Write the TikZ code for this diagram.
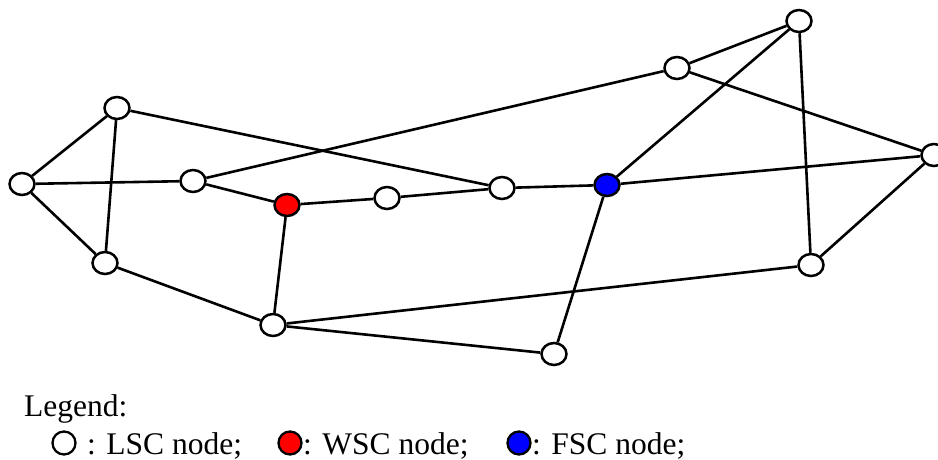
\documentclass[tikz,border=0pt]{standalone}
\usepackage{fontspec}
\setmainfont{Liberation Serif}
\usetikzlibrary{shapes.geometric}
\begin{document}
\begin{tikzpicture}[x=1pt,y=-1pt,
  vertex/.style={ellipse, draw=black, line width=2.5pt, fill=white,
    minimum width=25pt, minimum height=22pt, inner sep=0pt},
  lsc/.style={vertex},
  wsc/.style={vertex, fill=red},
  fsc/.style={vertex, fill=blue},
  link/.style={line width=2.6pt, black},
  keymark/.style={circle, draw=black, line width=2.3pt, minimum size=23pt, inner sep=0pt},
  keytext/.style={anchor=base west, inner sep=0pt, font=\fontsize{31.5}{36}\selectfont}
]
\useasboundingbox (0,0) rectangle (938,459);
\clip (0,0) rectangle (938,459);

% network nodes
\node[lsc] (A) at (22,184) {};
\node[lsc] (B) at (117,108) {};
\node[lsc] (C) at (193,181) {};
\node[wsc] (D) at (287,205) {};
\node[lsc] (E) at (387,198) {};
\node[lsc] (F) at (502,188) {};
\node[fsc] (G) at (607,185) {};
\node[lsc] (H) at (677,68) {};
\node[lsc] (I) at (799,21) {};
\node[lsc] (J) at (934,155) {};
\node[lsc] (K) at (811,265) {};
\node[lsc] (L) at (105,263) {};
\node[lsc] (M) at (273,325) {};
\node[lsc] (N) at (554,354) {};

% links
\foreach \u/\v in {A/B, A/C, A/L, B/L, B/F, C/D, C/H, D/E, D/M, E/F, F/G,
                   G/I, G/N, G/J, H/I, H/J, I/K, J/K, L/M, M/K, M/N}
  \draw[link] (\u) -- (\v);

% legend
\node[keytext] (leg) at (24,416) {Legend:};
\node[keymark, fill=white] (k1) at (64,443) {};
\node[keytext] (t1) at (87,454) {: LSC node;};
\node[keymark, fill=red] (k2) at (290,443) {};
\node[keytext] (t2) at (303,454) {: WSC node;};
\node[keymark, fill=blue] (k3) at (519,443) {};
\node[keytext] (t3) at (532,454) {: FSC node;};
\end{tikzpicture}
\end{document}
